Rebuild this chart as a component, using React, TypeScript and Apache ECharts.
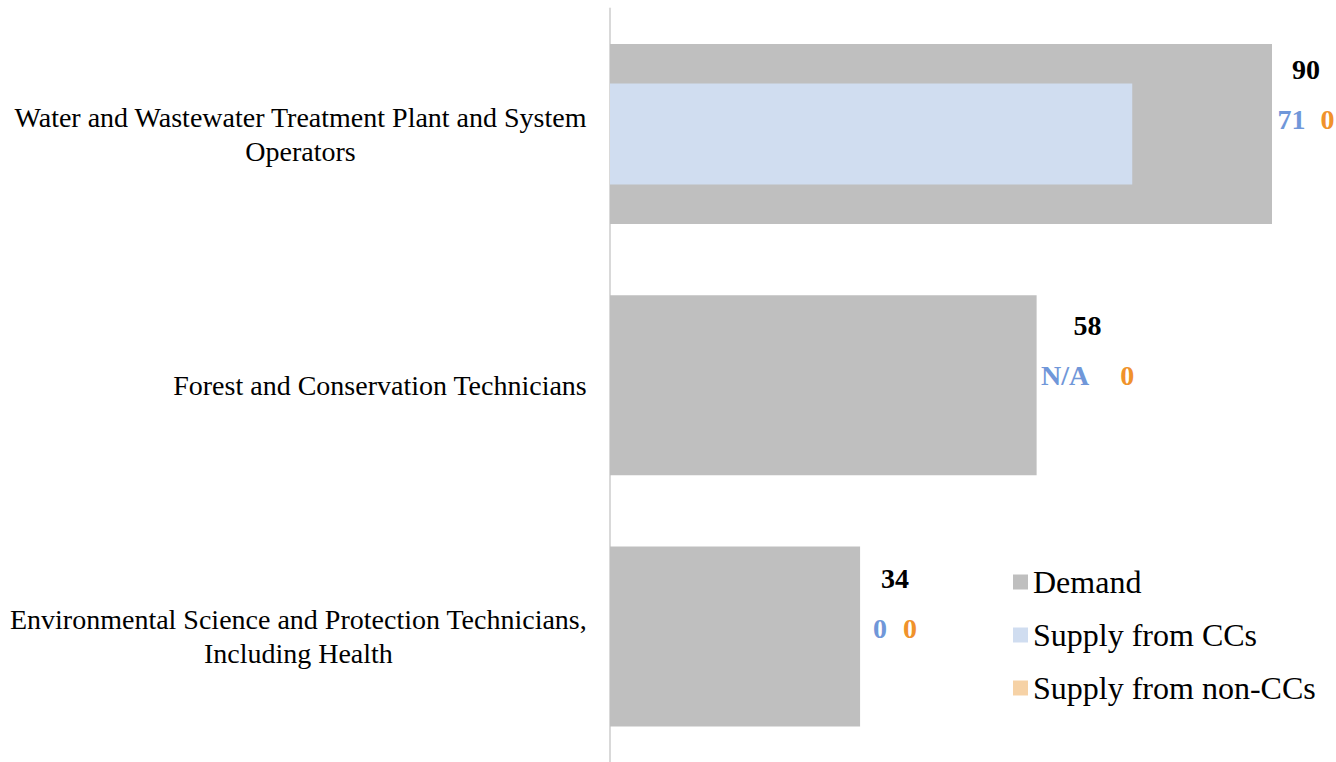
import React, { useEffect, useRef } from "react";
import * as echarts from "echarts";

const categories = [
  "Water and Wastewater Treatment Plant and System\nOperators",
  "Forest and Conservation Technicians",
  "Environmental Science and Protection Technicians,\nIncluding Health",
];
const seriesNames = ["Demand", "Supply from CCs", "Supply from non-CCs"];
const demand = [90, 58, 34];
const supplyCC: (number | null)[] = [71, null, 0];
const supplyNonCC = [0, 0, 0];

// layout only (label placement relative to the demand bar end)
const labelOffsets = [
  [34, -40],
  [51, -35],
  [35, -33],
];
const labelGaps = [15, 31, 16];

const FONT = "'Liberation Serif', 'Times New Roman', serif";
const GRAY = "#BFBFBF";
const BLUE = "#D0DDF0";
const PEACH = "#F6D2A6";
const BLUE_TXT = "#7097D9";
const ORANGE_TXT = "#F0922B";

export default function App() {
  const ref = useRef<HTMLDivElement>(null);
  useEffect(() => {
    if (!ref.current) return;
    const chart = echarts.init(ref.current, null, { renderer: "svg" });
    const rich: any = {
      d: { fontFamily: FONT, fontSize: 28, fontWeight: "bold", color: "#000", lineHeight: 50, align: "center" },
      c: { fontFamily: FONT, fontSize: 28, fontWeight: "bold", color: BLUE_TXT, lineHeight: 50, align: "center" },
      n: { fontFamily: FONT, fontSize: 28, fontWeight: "bold", color: ORANGE_TXT, lineHeight: 50, align: "center" },
    };
    labelGaps.forEach((g, i) => {
      rich["g" + i] = { width: g, lineHeight: 50, align: "center" };
    });
    const demandData = demand.map((v, i) => ({
      value: v,
      label: {
        show: true,
        position: "right",
        distance: 0,
        align: "center",
        verticalAlign: "middle",
        offset: labelOffsets[i],
        formatter: () => {
          const cc = supplyCC[i] == null ? "N/A" : String(supplyCC[i]);
          return `{d|${v}}\n{c|${cc}}{g${i}|}{n|${supplyNonCC[i]}}`;
        },
        rich,
      },
    }));
    chart.setOption({
      animation: false,
      grid: { left: 610, right: 64, top: 8.5, height: 756, containLabel: false },
      legend: {
        data: seriesNames,
        orient: "vertical",
        left: 1008,
        top: 561,
        icon: "rect",
        itemWidth: 15,
        itemHeight: 15,
        itemGap: 21,
        selectedMode: false,
        textStyle: { fontFamily: FONT, fontSize: 32, color: "#000", lineHeight: 32 },
      },
      xAxis: {
        type: "value",
        min: 0,
        max: 90,
        show: false,
        splitLine: { show: false },
      },
      yAxis: [
        {
          type: "category",
          data: categories,
          inverse: true,
          axisLine: { show: true, lineStyle: { color: "#D9D9D9", width: 2 } },
          axisTick: { show: false },
          axisLabel: {
            interval: 0,
            margin: 23,
            align: "right",
            formatter: (v: string) =>
              v
                .split("\n")
                .map((l) => `{c|${l}}`)
                .join("\n"),
            rich: {
              c: { fontFamily: FONT, fontSize: 28, lineHeight: 34, color: "#000", align: "center" },
            },
          },
        },
        {
          type: "category",
          data: categories,
          inverse: true,
          show: false,
        },
      ],
      series: [
        {
          name: seriesNames[0],
          type: "bar",
          yAxisIndex: 0,
          data: demandData,
          barWidth: 180,
          itemStyle: { color: GRAY },
        },
        {
          name: seriesNames[1],
          type: "bar",
          yAxisIndex: 1,
          data: supplyCC,
          barWidth: 101,
          barGap: "-100%",
          itemStyle: { color: BLUE },
        },
        {
          name: seriesNames[2],
          type: "bar",
          yAxisIndex: 1,
          data: supplyNonCC,
          barWidth: 101,
          barGap: "-100%",
          itemStyle: { color: PEACH },
        },
      ],
    });
    return () => chart.dispose();
  }, []);
  return (
    <div
      ref={ref}
      style={{ position: "absolute", left: 0, top: 0, width: 1336, height: 762 }}
    />
  );
}
